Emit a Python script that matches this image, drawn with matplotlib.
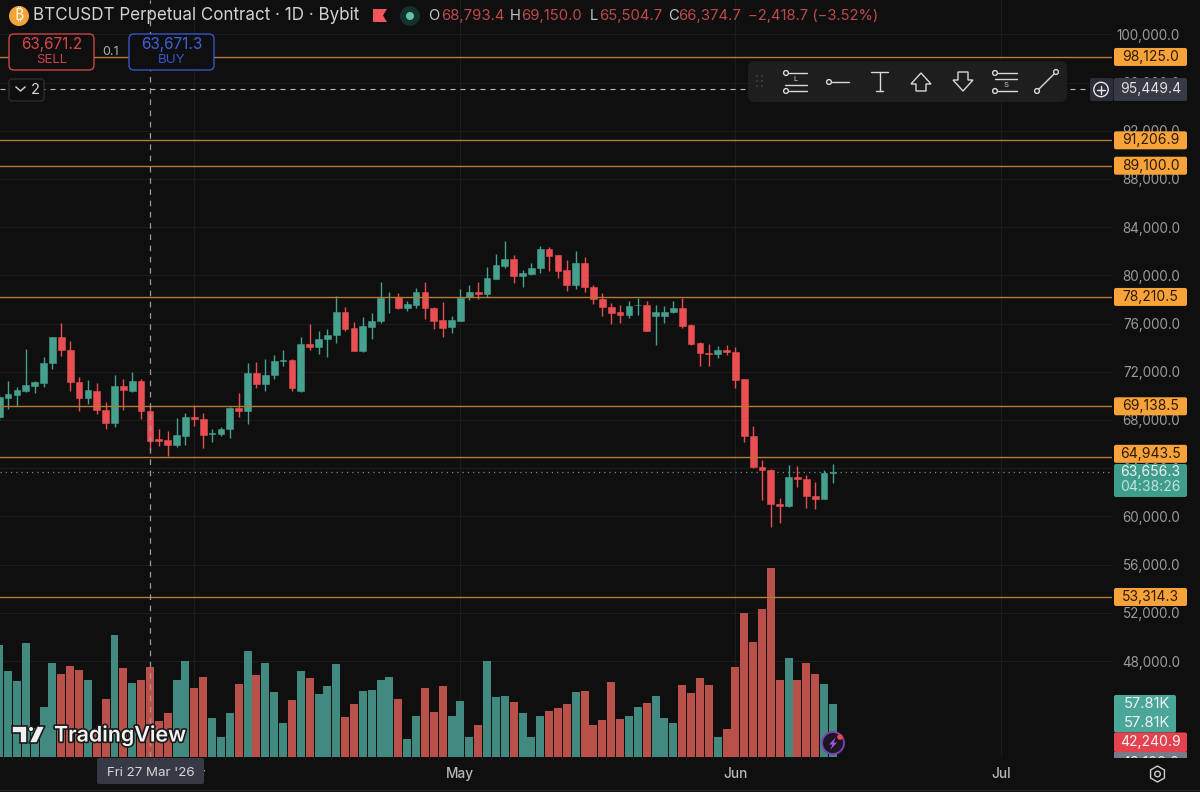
import matplotlib
matplotlib.use("Agg")
import matplotlib.pyplot as plt
import matplotlib.dates as mdates
import matplotlib.patheffects as pe
from matplotlib import font_manager as fm
from matplotlib.ft2font import FT2Font
from matplotlib.patches import FancyBboxPatch, Circle, Polygon, Rectangle
import numpy as np
import pandas as pd

plt.rcParams['font.family'] = ['Inter', 'DejaVu Sans']

start_date = '2026-03-10'
opens = [68283,69828,70077,70380,70821,71097,72698,74850,73801,71152,69828,70435,68835,67787,70821,70435,71263,68725,66407,66352,65938,66683,68228,68063,66876,66849,67235,69000,68725,71870,70987,71704,72863,72974,
70400,74319,74043,74733,75037,76995,75644,73685,75726,76195,78182,78182,77327,77520,78596,77327,76278,75699,76223,78182,78651,78458,79727,80775,81382,79948,80086,80582,82182,81658,80417,79230,
81024,79065,78044,77382,76940,76720,77547,77547,76664,76637,76940,77271,75864,74402,73547,73436,73823,73630,71367,66704,64111,63835,61020,60855,63283,63063,61683,61407,63642]
highs = [70100,71263,70711,73856,71263,73194,74850,76008,74574,71539,71318,71042,69497,71760,71373,71980,71373,69111,67235,67069,68145,68559,69221,68614,67290,67456,69056,70270,72753,72836,73084,73415,73801,73029,
74871,75975,75423,75533,78292,77354,76168,76527,76913,79451,78623,78513,77851,78927,79451,77409,77823,76637,78844,79175,79451,80720,81768,82817,81658,80444,81051,82431,82376,81658,81272,81989,
81548,79175,78568,77740,77575,77851,78126,77851,77575,77464,77851,78126,75975,74485,74319,74099,74209,74043,71367,67477,64718,63945,61518,64276,64221,63449,62842,63890,64332]
lows = [68000,68890,69166,70325,70215,70766,72201,73305,70435,68725,69332,68504,67235,67400,68835,70325,68063,65386,65855,64972,65745,65938,67511,65690,66214,66683,66517,68228,67676,70628,70435,71373,72477,70435,
70300,73767,73436,73216,74430,75368,73685,73657,74761,76085,76858,77189,77078,77299,76416,75533,74871,75257,76195,77961,78017,78237,79727,80610,79396,79065,80058,80168,80389,79782,78679,78844,
78623,77630,76637,75975,76085,76471,76692,75368,74209,76030,76858,75644,74209,72498,72443,73160,73381,70677,66208,64056,61352,59145,59421,60745,62400,60690,60580,61407,62787]
closes = [69883,70159,70463,70877,71152,72753,74850,73801,71152,69828,70463,68835,67787,70821,70490,71263,68725,66297,66297,65938,66738,68228,68063,66793,66959,67235,69000,68725,71870,70987,71732,72863,72974,70656,
74319,74043,74761,75064,76995,75533,73712,75782,76251,78126,78237,77299,77602,78596,77299,76195,75671,76278,78154,78623,78458,79782,80858,81382,79948,80168,80637,82182,81603,80389,79230,81024,
79010,78071,77354,76913,76720,77492,77575,75423,76968,76968,77271,75809,74347,73547,73436,73823,73602,71340,66704,64083,63835,60993,60855,63283,63063,61683,61462,63614,63656.3]
volumes_k = [122.5,93.4,83.3,124.4,31.6,54.5,102.5,90.5,98.9,94.5,84.0,29.1,63.3,133.1,97.4,80.7,84.4,98.5,39.3,48.4,84.4,104.4,75.3,87.3,42.2,21.8,48.4,80.0,116.0,89.5,102.5,70.9,36.7,62.2,94.2,86.2,69.1,77.8,101.5,43.6,57.5,72.4,73.1,84.4,87.3,62.9,19.3,44.4,
75.3,49.5,77.1,44.7,61.5,21.8,34.5,104.4,65.1,66.9,59.6,47.6,21.8,44.7,50.5,53.1,57.8,70.9,71.6,34.5,40.7,82.2,41.1,44.7,54.9,58.9,66.9,42.9,37.1,78.9,69.8,86.2,78.2,21.8,30.2,98.2,157.1,125.8,161.8,206.5,83.6,107.6,83.6,102.2,90.2,80.0,57.81]

levels = [98125.0, 91206.9, 89100.0, 78210.5, 69138.5, 64943.5, 53314.3]
level_labels = ['98,125.0','91,206.9','89,100.0','78,210.5','69,138.5','64,943.5','53,314.3']
price_ticks = list(range(48000, 100001, 4000))
month_ticks = ['2026-04-01', '2026-05-01', '2026-06-01', '2026-07-01']
month_labels = ['Apr', 'May', 'Jun', 'Jul']
last_price = 63656.3
cross_price = 95449.4
cross_date = '2026-03-27'

BG = '#0f0f0f'; GRID = '#1c1c1c'; UP = '#45a08e'; DOWN = '#e94f52'
VUP = '#428a80'; VDOWN = '#b9514a'; LEVEL = '#b57a33'; TAG = '#f7a33a'

W, H = 1200, 792
fig = plt.figure(figsize=(12, 7.92), dpi=100, facecolor=BG)
ax = fig.add_axes([0, 1 - 757 / H, 1112 / W, 757 / H], facecolor=BG)
vax = ax.twinx()

dates = pd.date_range(start_date, periods=len(opens))
x = mdates.date2num(dates)
opens, highs, lows, closes, volumes_k = map(np.array, (opens, highs, lows, closes, volumes_k))
up = closes >= opens

ax.set_xlim(x[0] + 0.09, x[0] + 125.46)
YMAX, YMIN = 102851, 40035
ax.set_ylim(YMIN, YMAX)
vax.set_ylim(0, 825.7)

def py(p):
    return 757 * (YMAX - p) / (YMAX - YMIN)

# volume first (behind the candles)
vax.bar(x, volumes_k, width=0.9, color=[VUP if u else VDOWN for u in up], linewidth=0, zorder=1)
vax.set_yticks([])
vax.set_zorder(1)
ax.set_zorder(2)
ax.patch.set_visible(False)
vax.set_facecolor(BG)
for a in (ax, vax):
    for s in a.spines.values():
        s.set_visible(False)

# candles
cols = [UP if u else DOWN for u in up]
ax.vlines(x, lows, highs, colors=cols, linewidth=1.0, zorder=4)
ax.bar(x, np.abs(closes - opens), bottom=np.minimum(opens, closes), width=0.76, color=cols,
       edgecolor=cols, linewidth=0.4, zorder=5)

# axes
ax.yaxis.tick_right()
ax.set_yticks(price_ticks)
ax.set_yticklabels([f'{t:,.1f}' for t in price_ticks], ha='right', fontsize=9.7, color='#9b9b9b')
ax.tick_params(axis='y', length=0, pad=49)
ax.set_xticks(mdates.date2num(pd.to_datetime(month_ticks)))
ax.set_xticklabels(month_labels, fontsize=9.8, color='#b8b8b8', fontweight='medium')
ax.tick_params(axis='x', length=0, pad=7)
vax.grid(False)
for t in price_ticks:
    vax.axhline(vax.get_ylim()[0] + (t - YMIN) / (YMAX - YMIN) * vax.get_ylim()[1], color=GRID, lw=0.8, zorder=0)
for d in mdates.date2num(pd.to_datetime(month_ticks)):
    vax.axvline(d, color=GRID, lw=0.8, zorder=0)

# levels and lines
for lv in levels:
    ax.axhline(lv, color=LEVEL, lw=1.0, zorder=6)
ax.axhline(last_price, color='#6f8f88', lw=0.9, ls=(0, (1, 3.2)), zorder=3)
ax.axhline(cross_price, xmax=1090 / 1112, color='#bdbdbd', lw=0.8, ls=(0, (4.5, 4.5)), zorder=7)
ax.axvline(mdates.date2num(pd.Timestamp(cross_date)), color='#9a9a9a', lw=0.9, ls=(0, (4.5, 4.5)), zorder=7)

# overlay in pixel coordinates for the TradingView interface
ui = fig.add_axes([0, 0, 1, 1], facecolor='none')
ui.set_xlim(0, W); ui.set_ylim(H, 0); ui.axis('off'); ui.set_zorder(10)

def box(x0, y0, x1, y1, fc, ec='none', r=2, lw=1.0, z=10):
    p = FancyBboxPatch((x0, y0), x1 - x0, y1 - y0, boxstyle=f'round,pad=0,rounding_size={r}',
                       fc=fc, ec=ec, lw=lw, zorder=z)
    ui.add_patch(p)
    return p

def txt(px, pyy, s, color='#d4d4d4', size=9.6, ha='center', z=12, **kw):
    return ui.text(px, pyy, s, color=color, fontsize=size, ha=ha, va='center', zorder=z, **kw)

def line(x0, y0, x1, y1, color='#d8d8d8', lw=1.0, z=12):
    ui.plot([x0, x1], [y0, y1], color=color, lw=lw, zorder=z, solid_capstyle='round')

def ring(cx, cy, r=2.4, color='#d8d8d8', lw=1.0, fc='none', z=12):
    ui.add_patch(Circle((cx, cy), r, fc=fc, ec=color, lw=lw, zorder=z))

# level tags
tag_shift = {'64,943.5': -3}
for lv, lab in zip(levels, level_labels):
    yc = py(lv) + tag_shift.get(lab, 0)
    box(1114, yc - 9, 1187, yc + 9, TAG)
    txt(1150.5, yc, lab, color='#2b1a05', size=10)

# last price tag
box(1114, 464, 1187, 497, '#3f9d8c')
txt(1150.5, 472, '63,656.3', color='#f0f0f0', size=10)
txt(1150.5, 487, '04:38:26', color='#bfe3dc', size=10)

# volume tags
box(1114, 695, 1176, 732.5, '#4aa699')
txt(1147, 704, '57.81K', color='#f0f0f0', size=10.6)
txt(1147, 723, '57.81K', color='#f0f0f0', size=10.6)
clip = Rectangle((1100, 751), 100, 7, transform=ui.transData)
gp = box(1114, 751, 1187, 772, '#787b86', z=10)
gp.set_clip_path(clip)
t48 = txt(1150.5, 762.5, '48,100.0', color='#f0f0f0', z=10.5, size=10, clip_on=True)
t48.set_clip_path(clip)
box(1114, 732.5, 1187, 752, '#e3424e', z=11)
txt(1150.5, 742, '42,240.9', color='#f5f5f5', size=10)

# crosshair tags
box(1114, 78, 1187, 101, '#363a45')
txt(1150.5, 89.5, '95,449.4', color='#e0e0e0', size=10)
box(1090, 78, 1113.5, 101, '#2b2e38')
ring(1101, 89.5, 7.2, '#e8e8e8', 1.0)
line(1097, 89.5, 1105, 89.5, '#e8e8e8'); line(1101, 85.5, 1101, 93.5, '#e8e8e8')
box(97, 758, 204, 784, '#363a45')
txt(150.5, 773, "Fri 27 Mar '26", color='#d6d6d6')

# header
def family_with(ch, names):
    for name in names:
        path = fm.findfont(name, fallback_to_default=False) if name in {f.name for f in fm.fontManager.ttflist} else None
        if path and FT2Font(path).get_char_index(ord(ch)):
            return name
    return None

btc_family = family_with('₿', ['Noto Sans', 'Roboto', 'Open Sans', 'Lato', 'Liberation Sans', 'DejaVu Sans', 'Noto Sans CJK SC'])
ring(19, 16, 10, '#f2a33a', 0, fc='#f2a33a')
txt(19, 16, '₿', color='#fff3dc', size=11.5, family=[btc_family or 'DejaVu Sans', 'DejaVu Sans'])
txt(33, 16, 'BTCUSDT Perpetual Contract · 1D · Bybit', ha='left', size=12.25, color='#d2d2d2')
ui.add_patch(Polygon([(373, 9), (387, 9), (383, 15.5), (387, 22), (373, 22)], fc='#f0565a', ec='none', zorder=12))
ring(410, 16, 9.5, '#16302b', 0.5, fc='#16302b')
ring(410, 16, 4, '#5fc4ab', 0, fc='#5fc4ab')
OHLC = '#bf4a4b'
for label, value, lx, vx in [('O', '68,793.4', 428, 441), ('H', '69,150.0', 510, 521),
                             ('L', '65,504.7', 590, 599), ('C', '66,374.7', 668, 678)]:
    txt(lx, 16, label, ha='left', color='#c4c4c4', size=10.6)
    txt(vx, 16, value, ha='left', color=OHLC, size=10.7)
txt(748, 16, '−2,418.7 (−3.52%)', ha='left', color=OHLC, size=10.6)

# order buttons
box(9, 34, 94, 70, BG, '#c8474a', r=5, lw=1.0)
txt(51.5, 45, '63,671.2', color='#d9474c', size=11)
txt(51.5, 60, 'SELL', color='#c9434a', size=9.6)
box(129, 34, 214, 70, BG, '#3656c8', r=5, lw=1.0)
txt(171.5, 45, '63,671.3', color='#3f62d6', size=11)
txt(171.5, 60, 'BUY', color='#3656c8', size=9.6)
ui.add_patch(Rectangle((100, 44), 22, 12, fc=BG, ec='none', zorder=11))
txt(111, 52, '0.1', color='#b0b0b0', size=9)
box(9, 79, 44, 101, BG, '#2c2c2c', r=3, lw=1.0)
ui.plot([16, 20.5, 25], [87, 91, 87], color='#d8d8d8', lw=1.0, zorder=12)
txt(35, 90, '2', color='#d8d8d8', size=10.5)

# drawing toolbar
box(748, 61, 1067, 102, '#1e1e1e', r=7)
for gx in (757, 762):
    for gy in (76, 81, 86):
        ui.add_patch(Circle((gx, gy), 0.9, fc='#4a4a4a', ec='none', zorder=12))
ring(786, 73); line(788.5, 73, 807, 73); txt(796, 79, 'L', size=5.6); line(785, 85, 807, 85)
ring(786, 91); line(788.5, 91, 807, 91)
ring(829, 82); line(831.5, 82, 849, 82)
line(871, 72, 888, 72); line(879.5, 72, 879.5, 91); line(876, 91, 883, 91)
ui.add_patch(Polygon([(921, 73), (931, 84), (926, 84), (926, 91), (916, 91), (916, 84), (911, 84)],
                     fc='none', ec='#d8d8d8', lw=1.0, zorder=12))
ui.add_patch(Polygon([(958, 72), (968, 72), (968, 80), (973, 80), (963, 91), (953, 80), (958, 80)],
                     fc='none', ec='#d8d8d8', lw=1.0, zorder=12))
ring(995, 73); line(997.5, 73, 1017, 73); line(995, 79, 1017, 79); txt(1006, 85, 'S', size=5.6)
ring(995, 91); line(997.5, 91, 1017, 91)
ring(1037, 91); ring(1056, 72); line(1039, 89, 1054, 74)

# TradingView watermark
stroke = [pe.withStroke(linewidth=2.4, foreground='#1a1a1a')]
logo = [Polygon([(12, 726), (27, 726), (27, 743), (20, 743), (20, 733), (12, 733)], fc='#f0f0f0', ec='#1a1a1a', lw=1.2, zorder=13),
        Polygon([(37, 726), (45, 726), (37, 743), (29, 743)], fc='#f0f0f0', ec='#1a1a1a', lw=1.2, zorder=13),
        Circle((31, 729), 2.6, fc='#f0f0f0', ec='#1a1a1a', lw=0.8, zorder=13)]
for p in logo:
    ui.add_patch(p)
tv = txt(54, 735, 'TradingView', ha='left', color='#f2f2f2', size=15.4, fontweight='semibold', z=13)
tv.set_path_effects(stroke)

# lightning badge
ring(833, 743, 11, '#7a3fb0', 1.4, fc='#1c1524', z=13)
ui.add_patch(Polygon([(836, 737), (829, 744.5), (832.5, 744.5), (830, 750), (837, 742.5), (833.5, 742.5)],
                     fc='#a256e0', ec='none', zorder=14))
ring(840, 737, 2.8, '#e9484d', 0, fc='#e9484d', z=14)

# settings hexagon and lower edge
th = np.deg2rad(np.arange(30, 390, 60))
ui.add_patch(Polygon(np.c_[1157.5 + 8 * np.cos(th), 774 + 8 * np.sin(th)], fc='none', ec='#cfcfcf', lw=1.0, zorder=12))
ring(1157.5, 774, 2.8, '#cfcfcf', 1.0)
line(0, 789.5, W, 789.5, '#262626', 0.9)

fig.savefig('out.png', dpi=100, facecolor=BG)
